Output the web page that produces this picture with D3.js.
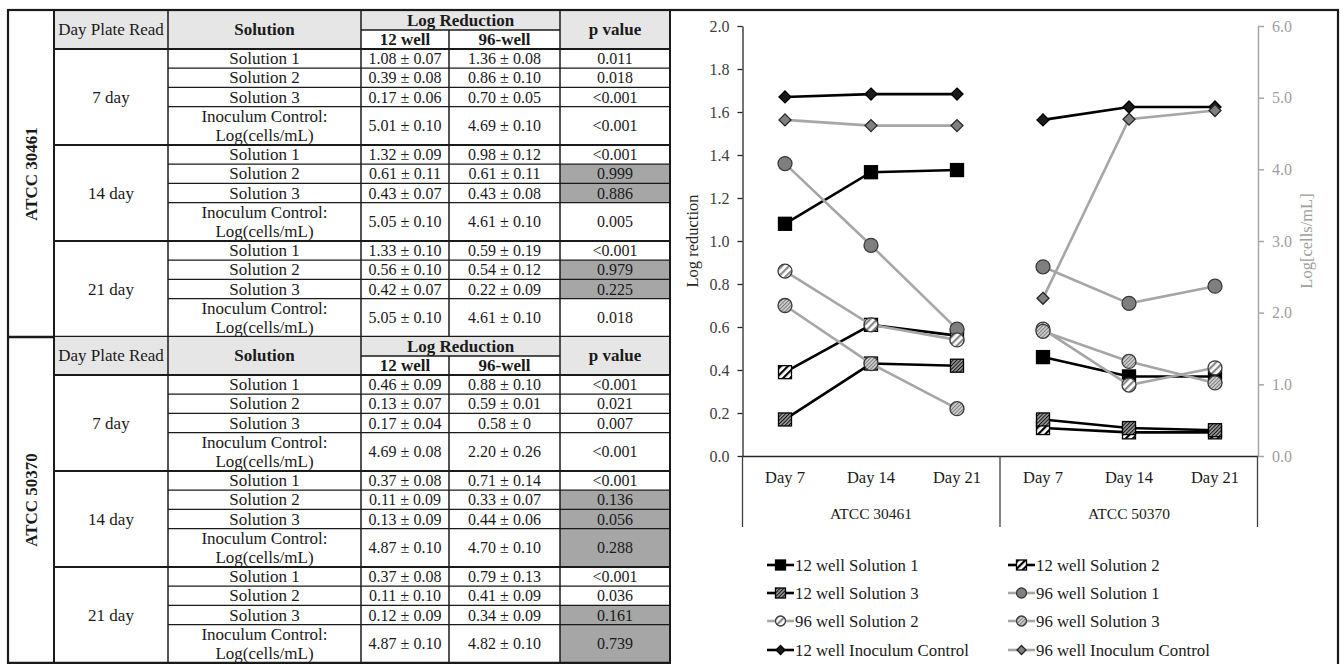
<!DOCTYPE html>
<html>
<head>
<meta charset="utf-8">
<script src="https://cdn.jsdelivr.net/npm/d3@7"></script>
<style>
  body { margin: 0; background: #fff; }
  text { font-family: "Liberation Serif", "Times New Roman", serif; }
</style>
</head>
<body>
<svg id="fig" width="1343" height="664"></svg>
<script>
// ---------- data (rows = day 7/14/21, cols = solution 1/2/3/inoculum control) ----------
const strains = ['ATCC 30461', 'ATCC 50370'];
const days = ['7 day', '14 day', '21 day'];
const dayTicks = ['Day 7', 'Day 14', 'Day 21'];
const solutions = ['Solution 1', 'Solution 2', 'Solution 3', 'Inoculum Control:|Log(cells/mL)'];

const mean12_30461 = [[1.08, 0.39, 0.17, 5.01], [1.32, 0.61, 0.43, 5.05], [1.33, 0.56, 0.42, 5.05]];
const sd12_30461   = [[0.07, 0.08, 0.06, 0.10], [0.09, 0.11, 0.07, 0.10], [0.10, 0.10, 0.07, 0.10]];
const mean96_30461 = [[1.36, 0.86, 0.70, 4.69], [0.98, 0.61, 0.43, 4.61], [0.59, 0.54, 0.22, 4.61]];
const sd96_30461   = [[0.08, 0.10, 0.05, 0.10], [0.12, 0.11, 0.08, 0.10], [0.19, 0.12, 0.09, 0.10]];
const p_30461      = [['0.011', '0.018', '<0.001', '<0.001'], ['<0.001', '0.999', '0.886', '0.005'], ['<0.001', '0.979', '0.225', '0.018']];

const mean12_50370 = [[0.46, 0.13, 0.17, 4.69], [0.37, 0.11, 0.13, 4.87], [0.37, 0.11, 0.12, 4.87]];
const sd12_50370   = [[0.09, 0.07, 0.04, 0.08], [0.08, 0.09, 0.09, 0.10], [0.08, 0.10, 0.09, 0.10]];
const mean96_50370 = [[0.88, 0.59, 0.58, 2.20], [0.71, 0.33, 0.44, 4.70], [0.79, 0.41, 0.34, 4.82]];
const sd96_50370   = [[0.10, 0.01, 0, 0.26], [0.14, 0.07, 0.06, 0.10], [0.13, 0.09, 0.09, 0.10]];
const p_50370      = [['<0.001', '0.021', '0.007', '<0.001'], ['<0.001', '0.136', '0.056', '0.288'], ['<0.001', '0.036', '0.161', '0.739']];

const seriesNames = ['12 well Solution 1', '12 well Solution 2', '12 well Solution 3',
  '96 well Solution 1', '96 well Solution 2', '96 well Solution 3',
  '12 well Inoculum Control', '96 well Inoculum Control'];
const leftTicks = [0, 0.2, 0.4, 0.6, 0.8, 1.0, 1.2, 1.4, 1.6, 1.8, 2.0];
const rightTicks = [0, 1, 2, 3, 4, 5, 6];

const mean12 = [mean12_30461, mean12_50370];
const sd12 = [sd12_30461, sd12_50370];
const mean96 = [mean96_30461, mean96_50370];
const sd96 = [sd96_30461, sd96_50370];
const pvals = [p_30461, p_50370];

const svg = d3.select('#fig');
const ink = '#1a1a1a';

// ---------- patterns ----------
const defs = svg.append('defs');
function hatch(id, bg, fg, gap, w) {
  const p = defs.append('pattern').attr('id', id)
    .attr('patternUnits', 'userSpaceOnUse')
    .attr('width', gap).attr('height', gap)
    .attr('patternTransform', 'rotate(45)');
  p.append('rect').attr('width', gap).attr('height', gap).attr('fill', bg);
  p.append('rect').attr('width', w).attr('height', gap).attr('fill', fg);
}
hatch('hWide', '#fff', '#000', 5, 2.2);
hatch('hDense', '#9a9a9a', '#111', 2.6, 1);
hatch('cWide', '#fff', '#8a8a8a', 5, 2.2);
hatch('cFine', '#d0d0d0', '#7a7a7a', 2.6, 1);

// ---------- table ----------
const colX = [8, 54, 168, 361, 449, 560, 670];
const blockTop = [11, 337];
const headH = 38, rowH = 19.2;
const fmt = (m, s) => m.toFixed(2) + ' \u00b1 ' + (s === 0 ? '0' : s.toFixed(2));
const mid = i => (colX[i] + colX[i + 1]) / 2;
const table = svg.append('g');

function hline(y, x1, x2, w) {
  table.append('line').attr('x1', x1).attr('x2', x2).attr('y1', y).attr('y2', y)
    .attr('stroke', ink).attr('stroke-width', w);
}
function vline(x, y1, y2, w) {
  table.append('line').attr('x1', x).attr('x2', x).attr('y1', y1).attr('y2', y2)
    .attr('stroke', ink).attr('stroke-width', w);
}
function txt(x, y, s, bold, size) {
  return table.append('text').attr('x', x).attr('y', y).attr('text-anchor', 'middle')
    .attr('font-size', size || 17).attr('fill', ink).attr('font-weight', bold ? 'bold' : 'normal').text(s);
}

strains.forEach((strain, b) => {
  const y0 = blockTop[b];
  const bodyTop = y0 + headH;
  const bottom = bodyTop + 3 * (3 * rowH + 2 * rowH);

  // header backgrounds
  table.append('rect').attr('x', colX[1]).attr('y', y0).attr('width', colX[3] - colX[1]).attr('height', headH).attr('fill', '#e6e6e6');
  table.append('rect').attr('x', colX[3]).attr('y', y0).attr('width', colX[5] - colX[3]).attr('height', headH / 2).attr('fill', '#e6e6e6');
  table.append('rect').attr('x', colX[5]).attr('y', y0).attr('width', colX[6] - colX[5]).attr('height', headH).attr('fill', '#e6e6e6');

  txt(mid(1), y0 + 24, 'Day Plate Read', false);
  txt(mid(2), y0 + 24, 'Solution', true);
  txt((colX[3] + colX[5]) / 2, y0 + 14.5, 'Log Reduction', true);
  txt(mid(3), y0 + 33.5, '12 well', true);
  txt(mid(4), y0 + 33.5, '96-well', true);
  txt(mid(5), y0 + 24, 'p value', true);

  // strain label
  table.append('text').attr('transform', `translate(${mid(0) + 6},${(y0 + bottom) / 2}) rotate(-90)`)
    .attr('text-anchor', 'middle').attr('font-size', 17).attr('font-weight', 'bold').attr('fill', ink).text(strain);

  days.forEach((day, d) => {
    const dTop = bodyTop + d * 5 * rowH;
    txt(mid(1), dTop + 2.5 * rowH + 5.5, day, false);
    solutions.forEach((sol, s) => {
      const rTop = dTop + s * rowH;
      const h = s === 3 ? 2 * rowH : rowH;
      const p = pvals[b][d][s];
      if (!p.startsWith('<') && +p > 0.05) {
        table.append('rect').attr('x', colX[5]).attr('y', rTop).attr('width', colX[6] - colX[5]).attr('height', h).attr('fill', '#a6a6a6');
      }
      const lines = sol.split('|');
      if (lines.length === 2) {
        txt(mid(2), rTop + rowH / 2 + 5.5, lines[0], false);
        txt(mid(2), rTop + 1.5 * rowH + 5.5, lines[1], false);
      } else {
        txt(mid(2), rTop + h / 2 + 5.5, sol, false);
      }
      txt(mid(3), rTop + h / 2 + 5.5, fmt(mean12[b][d][s], sd12[b][d][s]), false, 16);
      txt(mid(4), rTop + h / 2 + 5.5, fmt(mean96[b][d][s], sd96[b][d][s]), false, 16);
      txt(mid(5), rTop + h / 2 + 5.5, p, false, 16);
      if (s > 0) hline(rTop, colX[2], colX[6], 1.2);
    });
    hline(dTop, colX[1], colX[6], 2);
  });

  hline(y0 + headH / 2, colX[3], colX[5], 1.5);
  vline(colX[1], y0, bottom, 2);
  vline(colX[2], y0, bottom, 1.5);
  vline(colX[3], y0, bottom, 1.5);
  vline(colX[4], y0 + headH / 2, bottom, 1.5);
  vline(colX[5], y0, bottom, 1.5);
  hline(bottom, colX[0], colX[6], 2.5);
});
vline(colX[6], 10, 664, 2);

// ---------- chart ----------
const cats = [];
strains.forEach(s => dayTicks.forEach(d => cats.push(s + '|' + d)));
const x = d3.scaleBand().domain(cats).range([742, 1258]);
const cx = k => x(k) + x.bandwidth() / 2;
const yL = d3.scaleLinear().domain([0, 2]).range([456, 26]);
const yR = d3.scaleLinear().domain([0, 6]).range([456, 26]);

const chart = svg.append('g');

const axL = chart.append('g').attr('transform', 'translate(742.5,0)')
  .call(d3.axisLeft(yL).tickValues(leftTicks).tickFormat(d3.format('.1f')).tickSize(5).tickSizeOuter(0).tickPadding(8));
axL.selectAll('path,line').attr('stroke', '#262626').attr('stroke-width', 1.3);
axL.selectAll('text').attr('font-size', 16).attr('fill', '#404040').attr('font-family', '"Liberation Serif", serif');

const axR = chart.append('g').attr('transform', 'translate(1258,0)')
  .call(d3.axisRight(yR).tickValues(rightTicks).tickFormat(d3.format('.1f')).tickSize(6).tickSizeOuter(0).tickPadding(8));
axR.selectAll('path,line').attr('stroke', '#a6a6a6').attr('stroke-width', 1.5);
axR.selectAll('text').attr('font-size', 16).attr('fill', '#a0a0a0').attr('font-family', '"Liberation Serif", serif');

chart.append('text').attr('transform', 'translate(698,241) rotate(-90)').attr('text-anchor', 'middle')
  .attr('font-size', 16.5).attr('fill', '#262626').text('Log reduction');
chart.append('text').attr('transform', 'translate(1312,241) rotate(-90)').attr('text-anchor', 'middle')
  .attr('font-size', 16.5).attr('fill', '#a0a0a0').text('Log[cells/mL]');

// category axis (two levels)
chart.append('line').attr('x1', 742).attr('x2', 1258).attr('y1', 456.5).attr('y2', 456.5)
  .attr('stroke', '#262626').attr('stroke-width', 1.3);
[742.5, 1000, 1257.5].forEach(v => {
  chart.append('line').attr('x1', v).attr('x2', v).attr('y1', 456).attr('y2', 527)
    .attr('stroke', '#404040').attr('stroke-width', 1.3);
});
chart.selectAll('.daylbl').data(cats).join('text')
  .attr('x', d => cx(d)).attr('y', 483).attr('text-anchor', 'middle')
  .attr('font-size', 16.5).attr('fill', ink).text(d => d.split('|')[1]);
strains.forEach(s => {
  const ks = cats.filter(k => k.startsWith(s));
  chart.append('text').attr('x', (cx(ks[0]) + cx(ks[2])) / 2).attr('y', 519).attr('text-anchor', 'middle')
    .attr('font-size', 15.5).attr('fill', ink).text(s);
});

// series styles
const styles = [
  { mark: 'square', fill: '#000', stroke: '#000', line: '#000' },
  { mark: 'square', fill: 'url(#hWide)', stroke: '#000', line: '#000' },
  { mark: 'square', fill: 'url(#hDense)', stroke: '#000', line: '#000' },
  { mark: 'circle', fill: '#7f7f7f', stroke: '#3a3a3a', line: '#a6a6a6' },
  { mark: 'circle', fill: 'url(#cWide)', stroke: '#3a3a3a', line: '#a6a6a6' },
  { mark: 'circle', fill: 'url(#cFine)', stroke: '#3a3a3a', line: '#a6a6a6' },
  { mark: 'diamond', fill: '#1a1a1a', stroke: '#000', line: '#000' },
  { mark: 'diamond', fill: '#7f7f7f', stroke: '#262626', line: '#a6a6a6' }
];

function drawMark(g, st, px, py, sz) {
  if (st.mark === 'square') {
    g.append('rect').attr('x', px - sz / 2).attr('y', py - sz / 2).attr('width', sz).attr('height', sz)
      .attr('fill', st.fill).attr('stroke', st.stroke).attr('stroke-width', 1.3);
  } else if (st.mark === 'circle') {
    g.append('circle').attr('cx', px).attr('cy', py).attr('r', sz / 2)
      .attr('fill', st.fill).attr('stroke', st.stroke).attr('stroke-width', 1.3);
  } else {
    const r = sz / 2;
    g.append('path').attr('d', d3.symbol().type(d3.symbolDiamond2).size((r / 0.62625) ** 2)())
      .attr('transform', `translate(${px},${py})`)
      .attr('fill', st.fill).attr('stroke', st.stroke).attr('stroke-width', 1.3);
  }
}

const markSize = { square: 13, circle: 14, diamond: 12 };
const plot = chart.append('g');
seriesNames.forEach((name, i) => {
  const well = i === 6 ? 12 : i === 7 ? 96 : (i < 3 ? 12 : 96);
  const sol = i >= 6 ? 3 : i % 3;
  const yS = sol === 3 ? yR : yL;
  const st = styles[i];
  const src = well === 12 ? mean12 : mean96;
  strains.forEach((s, b) => {
    const pts = dayTicks.map((d, di) => ({ k: s + '|' + d, v: src[b][di][sol] }));
    plot.append('path').datum(pts)
      .attr('d', d3.line().x(p => cx(p.k)).y(p => yS(p.v)))
      .attr('fill', 'none').attr('stroke', st.line).attr('stroke-width', 2.6);
    pts.forEach(p => drawMark(plot, st, cx(p.k), yS(p.v), markSize[st.mark]));
  });
});

// legend
const legX = [767, 1008];
const legY = [565, 593, 621, 650];
const leg = chart.append('g');
seriesNames.forEach((name, i) => {
  const lx = legX[i % 2], ly = legY[Math.floor(i / 2)];
  const st = styles[i];
  leg.append('line').attr('x1', lx).attr('x2', lx + 27).attr('y1', ly).attr('y2', ly)
    .attr('stroke', st.line).attr('stroke-width', 2.6);
  drawMark(leg, st, lx + 13.5, ly, st.mark === 'diamond' ? 9 : 10);
  leg.append('text').attr('x', lx + 28).attr('y', ly + 5.5).attr('font-size', 16.8).attr('fill', ink).text(name);
});

// outer frame
svg.append('rect').attr('x', 8).attr('y', 10).attr('width', 1330).attr('height', 660)
  .attr('fill', 'none').attr('stroke', ink).attr('stroke-width', 2.2);
</script>
</body>
</html>
